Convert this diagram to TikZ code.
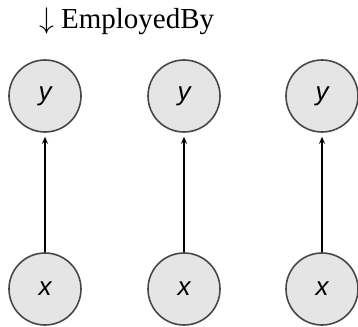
\documentclass[tikz,border=0pt]{standalone}
\usepackage{fontspec}
\usepackage{graphicx}
\usetikzlibrary{arrows.meta}
\setmainfont{Liberation Serif}
\setsansfont{Liberation Sans}
\begin{document}
\begin{tikzpicture}[x=1pt,y=1pt,
  var/.style={circle, draw=black!72, fill=black!10, line width=1.6pt,
    minimum size=72pt, inner sep=0pt, font=\sffamily\itshape\fontsize{26}{30}\selectfont},
  rel/.style={-{Stealth[length=7pt,width=6pt]}, line width=1.2pt, shorten >=4pt}]
\useasboundingbox (0,0) rectangle (358,326);
% relation label
\node[anchor=base west, inner sep=0pt, font=\fontsize{29}{33}\selectfont] (title) at (39,297)
  {\scalebox{1.2}{$\downarrow$}\hspace{7pt}EmployedBy};
% three x -> y pairs
\foreach \i/\cx in {1/45,2/184,3/322}{
  \node[var] (y\i) at (\cx,230) {y};
  \node[var] (x\i) at (\cx,37) {x};
  \draw[rel] (x\i) -- (y\i);
}
\end{tikzpicture}
\end{document}
